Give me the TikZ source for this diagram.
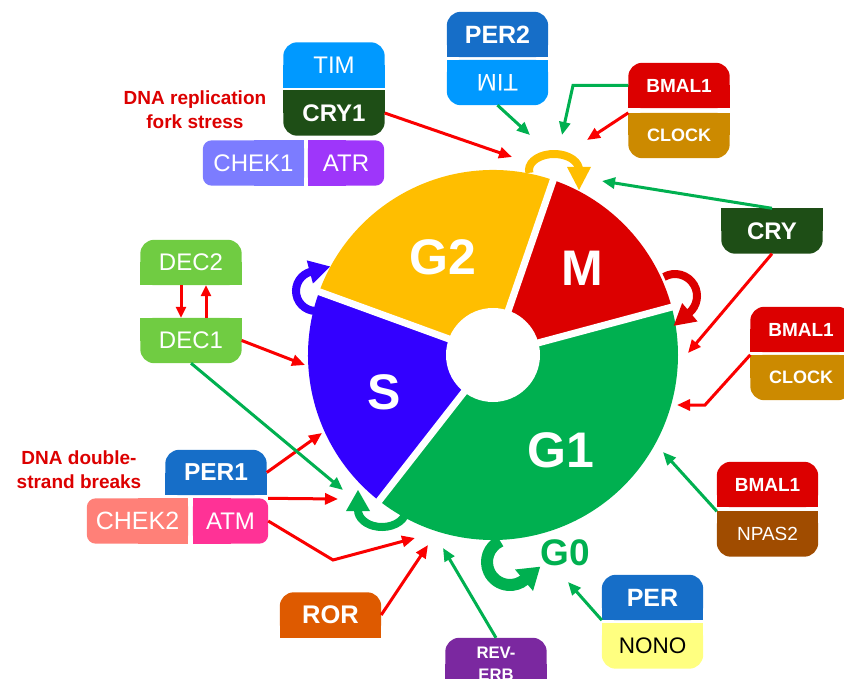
\documentclass[tikz,border=0pt]{standalone}
\usepackage{fontspec}
\setmainfont{Liberation Sans}
\usepackage{graphicx}
\usetikzlibrary{arrows.meta}
\pgfdeclarelayer{background}
\pgfsetlayers{background,main}
\definecolor{cTIM}{RGB}{0,153,255}
\definecolor{cCRY}{RGB}{30,78,22}
\definecolor{cCHEKa}{RGB}{124,124,255}
\definecolor{cATR}{RGB}{158,54,250}
\definecolor{cPER}{RGB}{22,110,200}
\definecolor{cRED}{RGB}{220,0,0}
\definecolor{cCLOCK}{RGB}{204,138,0}
\definecolor{cDEC}{RGB}{112,204,66}
\definecolor{cCHEKb}{RGB}{255,128,120}
\definecolor{cATM}{RGB}{255,50,150}
\definecolor{cROR}{RGB}{222,90,0}
\definecolor{cREV}{RGB}{123,40,160}
\definecolor{cNONO}{RGB}{255,255,128}
\definecolor{cNPAS}{RGB}{160,76,0}
\definecolor{cGtwo}{RGB}{255,190,0}
\definecolor{cGone}{RGB}{0,176,80}
\definecolor{cS}{RGB}{51,0,255}
\definecolor{aRed}{RGB}{250,0,0}
\definecolor{aGreen}{RGB}{0,176,80}
\tikzset{
  box/.style={minimum width=101pt, minimum height=45pt, inner sep=0pt, text=white,
     font=\fontsize{24}{24}\selectfont},
  bbox/.style={box, font=\bfseries\fontsize{24}{24}\selectfont},
  ra/.style={draw=aRed, line width=3pt, -{Triangle[length=13pt,width=11pt]}},
  ga/.style={draw=aGreen, line width=3pt, -{Triangle[length=13pt,width=11pt]}},
  phase/.style={text=white, inner sep=0pt, font=\bfseries\fontsize{50}{50}\selectfont},
  lbl/.style={text=cRED, inner sep=0pt, align=center, font=\bfseries\fontsize{19}{24}\selectfont},
  wgap/.style={white, line width=7pt},
  cyc/.style={line width=8pt},
}
\newcommand\boxbg[5][14pt]{%
  \begin{pgfonlayer}{background}
    \fill[#3, rounded corners=#1] (#2.south west) rectangle (#2.north east);
    \fill[#3] #4 rectangle #5;
  \end{pgfonlayer}}
\newcommand\headtip[5]{\fill[#1, shift={(#2)}, rotate=#3] (-1,#5) -- (#4,0) -- (-1,-#5) -- cycle;}
\begin{document}
\begin{tikzpicture}[x=1pt,y=1pt]
\useasboundingbox (0,0) rectangle (844,-679);
\clip (0,0) rectangle (844,-679);
% ---------- wheel ----------
\coordinate (C) at (493,-355);
\fill[cGtwo] (C) -- ++(71:185pt) arc[start angle=71, end angle=160, radius=185pt] -- cycle;
\fill[cRED] (C) -- ++(15:185pt) arc[start angle=15, end angle=71, radius=185pt] -- cycle;
\fill[cGone] (C) -- ++(-128:185pt) arc[start angle=-128, end angle=15, radius=185pt] -- cycle;
\fill[cS] (C) -- ++(160:185pt) arc[start angle=160, end angle=232, radius=185pt] -- cycle;
\foreach \a in {15,71,160,232} \draw[wgap] (C) -- ++(\a:190pt);
\fill[white] (C) circle[radius=47pt];
% ---------- circular arrows ----------
\draw[cyc, cGtwo] (554,-170) ++(190:25pt and 16pt) arc[start angle=190, end angle=0, x radius=25pt, y radius=16pt];
\headtip{cGtwo}{579,-168}{-90}{22}{12}
\draw[cyc, cRED] (675,-296) ++(120:22pt) arc[start angle=120, end angle=-50, radius=22pt];
\headtip{cRED}{689.1,-312.9}{-140}{20}{12}
\draw[cyc, cS] (316,-291) ++(-80:20pt) arc[start angle=-80, end angle=-255, radius=20pt];
\headtip{cS}{310.8,-271.7}{15}{20}{12}
\draw[cyc, cGone] (382,-510) ++(-10:24pt and 17pt) arc[start angle=-10, end angle=-180, x radius=24pt, y radius=17pt];
\headtip{cGone}{358,-510}{90}{20}{12}
\draw[cyc, cGone, line width=12pt] (510,-562) ++(115:23pt) arc[start angle=115, end angle=310, radius=23pt];
\headtip{cGone}{524.8,-579.6}{40}{20}{14}
% ---------- phase labels ----------
\node[phase] (g2) at (443,-257) {G2};
\node[phase] (m) at (582,-268) {M};
\node[phase] (s) at (384,-392) {S};
\node[phase] (g1) at (561,-450) {G1};
\node[text=cGone, inner sep=0pt, font=\bfseries\fontsize{37}{37}\selectfont] (g0) at (565,-553) {G0};
% ---------- text labels ----------
\node[lbl] (rep) at (195,-110) {DNA replication\\fork stress};
\node[lbl] (dsb) at (79,-470) {DNA double-\\strand breaks};
% ---------- boxes ----------
\node[box] (tim1) at (334,-65) {TIM};
\boxbg{tim1}{cTIM}{(tim1.west)}{(tim1.south east)}
\node[bbox] (cry1) at (334,-113) {CRY1};
\boxbg{cry1}{cCRY}{(cry1.west)}{(cry1.north east)}
\node[box] (chek1) at (253.5,-163) {CHEK1};
\boxbg[9pt]{chek1}{cCHEKa}{(chek1.north)}{(chek1.south east)}
\node[box, minimum width=76pt] (atr) at (346,-163) {ATR};
\boxbg[9pt]{atr}{cATR}{(atr.north west)}{(atr.south)}
\node[bbox, font=\bfseries\fontsize{25}{25}\selectfont] (per2) at (497.5,-34.5) {PER2};
\boxbg{per2}{cPER}{(per2.west)}{(per2.south east)}
\node[box] (tim2) at (497.5,-82.5) {\rotatebox[origin=c]{180}{TIM}};
\boxbg{tim2}{cTIM}{(tim2.west)}{(tim2.north east)}
\node[bbox, font=\bfseries\fontsize{19}{19}\selectfont] (bmal1a) at (679,-85.5) {BMAL1};
\boxbg{bmal1a}{cRED}{(bmal1a.west)}{(bmal1a.south east)}
\node[bbox, font=\bfseries\fontsize{18}{18}\selectfont] (clocka) at (679,-135.5) {CLOCK};
\boxbg{clocka}{cCLOCK}{(clocka.west)}{(clocka.north east)}
\node[bbox] (cry) at (772,-231) {CRY};
\boxbg{cry}{cCRY}{(cry.west)}{(cry.north east)}
\node[bbox, font=\bfseries\fontsize{19}{19}\selectfont] (bmal1b) at (801,-329.5) {BMAL1};
\boxbg{bmal1b}{cRED}{(bmal1b.west)}{(bmal1b.south east)}
\node[bbox, font=\bfseries\fontsize{18}{18}\selectfont] (clockb) at (801,-377.5) {CLOCK};
\boxbg{clockb}{cCLOCK}{(clockb.west)}{(clockb.north east)}
\node[bbox, font=\bfseries\fontsize{19}{19}\selectfont] (bmal1c) at (767.5,-484.5) {BMAL1};
\boxbg{bmal1c}{cRED}{(bmal1c.west)}{(bmal1c.south east)}
\node[box, font=\fontsize{19}{19}\selectfont] (npas2) at (767.5,-534) {NPAS2};
\boxbg{npas2}{cNPAS}{(npas2.west)}{(npas2.north east)}
\node[bbox, font=\bfseries\fontsize{25}{25}\selectfont] (per) at (652.5,-597.5) {PER};
\boxbg{per}{cPER}{(per.west)}{(per.south east)}
\node[box, text=black, font=\fontsize{22.5}{22.5}\selectfont] (nono) at (652.5,-646) {NONO};
\boxbg{nono}{cNONO}{(nono.west)}{(nono.north east)}
\node[bbox, minimum height=52pt, align=center, font=\bfseries\fontsize{16.7}{22}\selectfont] (reverb) at (496,-664) {REV-\\ERB};
\boxbg{reverb}{cREV}{(reverb.west)}{(reverb.south east)}
\node[bbox, font=\bfseries\fontsize{25.5}{25.5}\selectfont] (ror) at (330.5,-615) {ROR};
\boxbg{ror}{cROR}{(ror.west)}{(ror.south east)}
\node[bbox, font=\bfseries\fontsize{24.5}{24.5}\selectfont] (per1) at (216,-472.5) {PER1};
\boxbg{per1}{cPER}{(per1.west)}{(per1.south east)}
\node[box, font=\fontsize{25}{25}\selectfont] (chek2) at (137.5,-521) {CHEK2};
\boxbg[9pt]{chek2}{cCHEKb}{(chek2.north)}{(chek2.south east)}
\node[box, minimum width=75pt] (atm) at (230.5,-521) {ATM};
\boxbg[9pt]{atm}{cATM}{(atm.north west)}{(atm.south)}
\node[box] (dec2) at (191,-262.5) {DEC2};
\boxbg{dec2}{cDEC}{(dec2.west)}{(dec2.south east)}
\node[box] (dec1) at (191,-340.5) {DEC1};
\boxbg{dec1}{cDEC}{(dec1.west)}{(dec1.north east)}
% ---------- free ends ----------
\coordinate (e1) at (512,-157);
\coordinate (e2) at (530,-135);
\coordinate (k3) at (573,-85.5);
\coordinate (e3) at (562,-135);
\coordinate (e4) at (587,-140);
\coordinate (e5) at (602,-181);
\coordinate (e6) at (688,-353);
\coordinate (k7) at (705,-405);
\coordinate (e7) at (677,-405);
\coordinate (e8) at (663,-452);
\coordinate (e9) at (568,-582);
\coordinate (e10) at (443,-548);
\coordinate (e11) at (428,-545);
\coordinate (k12) at (333,-560);
\coordinate (e12) at (415,-538);
\coordinate (e13) at (338,-499);
\coordinate (e14) at (322,-433);
\coordinate (e15) at (343,-490);
\coordinate (e16) at (305,-365);
% ---------- connectors ----------
\draw[ra] (cry1.east) -- (e1);
\draw[ga] (tim2.south) -- (e2);
\draw[ga] (bmal1a.west) -- (k3) -- (e3);
\draw[ra] (clocka.north west) -- (e4);
\draw[ga] (cry.north) -- (e5);
\draw[ra] (cry.south) -- (e6);
\draw[ra] (clockb.north west) -- (k7) -- (e7);
\draw[ga] (npas2.north west) -- (e8);
\draw[ga] (per.south west) -- (e9);
\draw[ga] (reverb.north) -- (e10);
\draw[ra] (ror.east) -- (e11);
\draw[ra] (atm.east) -- (k12) -- (e12);
\draw[ra] (atm.north east) -- (e13);
\draw[ra] (per1.east) -- (e14);
\draw[ga] (dec1.south) -- (e15);
\draw[ra] (dec1.east) -- (e16);
\draw[ra, -{Triangle[length=11pt,width=10pt]}] ([xshift=-10pt]dec2.south) -- ([xshift=-10pt]dec1.north);
\draw[ra, -{Triangle[length=11pt,width=10pt]}] ([xshift=15pt]dec1.north) -- ([xshift=15pt]dec2.south);
\end{tikzpicture}
\end{document}
